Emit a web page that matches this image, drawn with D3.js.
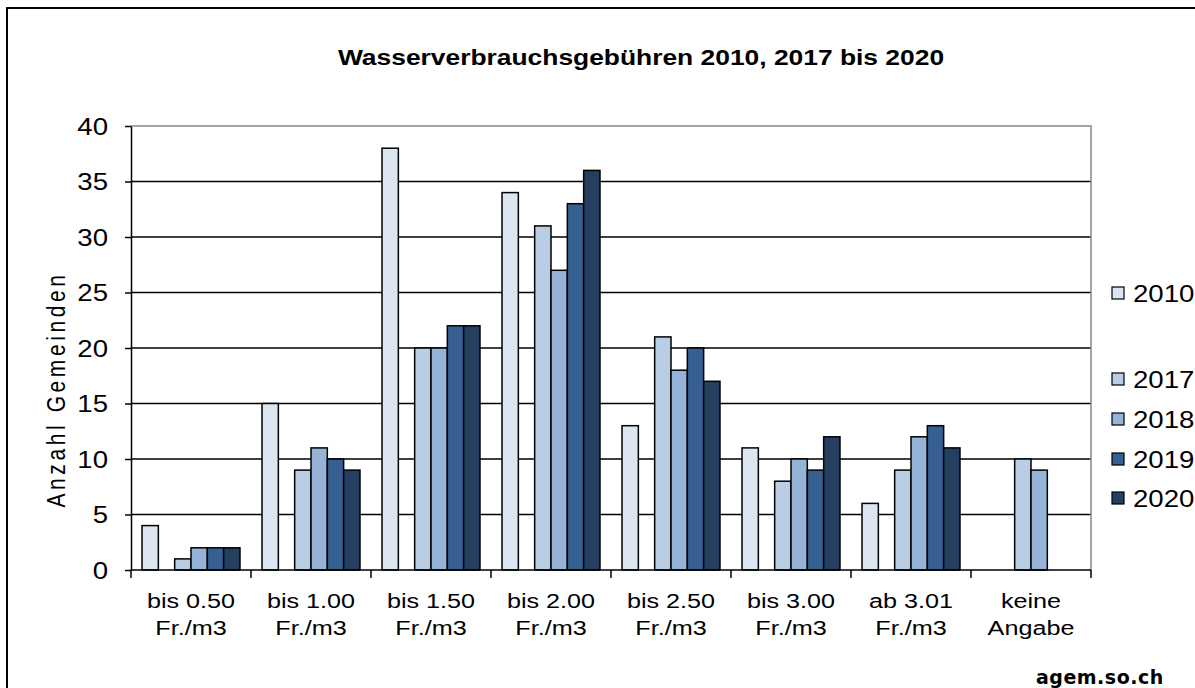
<!DOCTYPE html>
<html>
<head>
<meta charset="utf-8">
<script src="https://cdnjs.cloudflare.com/ajax/libs/d3/7.8.5/d3.min.js"></script>
<style>
  html, body { margin: 0; padding: 0; background: #fff; overflow: hidden; }
  svg { display: block; font-family: "Liberation Sans", Arial, sans-serif; }
</style>
</head>
<body>
<svg id="chart" width="1195" height="688"></svg>
<script>
// chart data
const categories = ["bis 0.50|Fr./m3", "bis 1.00|Fr./m3", "bis 1.50|Fr./m3", "bis 2.00|Fr./m3",
                    "bis 2.50|Fr./m3", "bis 3.00|Fr./m3", "ab 3.01|Fr./m3", "keine|Angabe"];
const seriesNames = ["2010", "", "2017", "2018", "2019", "2020"];
const values2010 = [4, 15, 38, 34, 13, 11, 6, null];
const values2017 = [1, 9, 20, 31, 21, 8, 9, 10];
const values2018 = [2, 11, 20, 27, 18, 10, 12, 9];
const values2019 = [2, 10, 22, 33, 20, 9, 13, null];
const values2020 = [2, 9, 22, 36, 17, 12, 11, null];
const yTicks = [0, 5, 10, 15, 20, 25, 30, 35, 40];

const seriesValues = { "2010": values2010, "": [], "2017": values2017,
                       "2018": values2018, "2019": values2019, "2020": values2020 };
const colors = { "2010": "#dce6f2", "2017": "#b9cde5", "2018": "#95b3d7",
                 "2019": "#376092", "2020": "#243f60" };

const sx = 1.2; // horizontal stretch of the original text
const svg = d3.select("#chart");

// outer frame
svg.append("rect").attr("x", 7).attr("y", 8).attr("width", 1220).attr("height", 700)
    .attr("fill", "none").attr("stroke", "#000").attr("stroke-width", 2);

const plot = { left: 131, right: 1091, top: 126, bottom: 570 };

const x = d3.scaleBand().domain(categories).range([plot.left, plot.right]).padding(0);
const xs = d3.scaleBand().domain(seriesNames).range([0, x.bandwidth()])
    .paddingInner(0).paddingOuter(0.675);
const y = d3.scaleLinear().domain([0, 40]).range([plot.bottom, plot.top]);

// grid lines
svg.append("g")
    .selectAll("line")
    .data(yTicks.filter(d => d > 0 && d < 40))
    .enter().append("line")
    .attr("x1", plot.left).attr("x2", plot.right)
    .attr("y1", d => y(d)).attr("y2", d => y(d))
    .attr("stroke", "#000").attr("stroke-width", 1.5);

// plot border (top + right, grey)
svg.append("path")
    .attr("d", `M${plot.left},${y(40)}H${plot.right}V${plot.bottom}`)
    .attr("fill", "none").attr("stroke", "#888").attr("stroke-width", 1.5);

// bars
const groups = svg.append("g")
    .selectAll("g")
    .data(seriesNames.filter(s => s !== ""))
    .enter().append("g")
    .attr("fill", s => colors[s]);

groups.selectAll("rect")
    .data(s => categories.map((c, i) => ({ s: s, c: c, v: seriesValues[s][i] })).filter(d => d.v != null))
    .enter().append("rect")
    .attr("x", d => x(d.c) + xs(d.s))
    .attr("y", d => y(d.v))
    .attr("width", xs.bandwidth())
    .attr("height", d => y(0) - y(d.v))
    .attr("stroke", "#000").attr("stroke-width", 1.5);

// y axis
const yAxis = svg.append("g")
    .attr("transform", `translate(${plot.left},0)`)
    .call(d3.axisLeft(y).tickValues(yTicks).tickSize(6).tickSizeOuter(0));
yAxis.select(".domain").attr("stroke", "#000").attr("stroke-width", 1.5);
yAxis.selectAll(".tick line").attr("stroke", "#000").attr("stroke-width", 1.5);
yAxis.selectAll(".tick text")
    .attr("x", 0).attr("dy", "0.35em")
    .attr("transform", `translate(-23,0) scale(${sx},1)`)
    .attr("font-size", 23).attr("fill", "#000")
    .attr("font-family", "Liberation Sans, Arial, sans-serif");

// x axis line and boundary ticks
const xAxis = svg.append("g");
xAxis.append("line")
    .attr("x1", plot.left).attr("x2", plot.right)
    .attr("y1", y(0)).attr("y2", y(0))
    .attr("stroke", "#000").attr("stroke-width", 1.5);
xAxis.selectAll(".bt")
    .data(categories.map(c => x(c)).concat([x(categories[categories.length - 1]) + x.bandwidth()]))
    .enter().append("line")
    .attr("x1", d => d).attr("x2", d => d)
    .attr("y1", y(0)).attr("y2", y(0) + 8)
    .attr("stroke", "#000").attr("stroke-width", 1.5);

// x labels
const xl = xAxis.selectAll(".xl")
    .data(categories)
    .enter().append("g")
    .attr("transform", c => `translate(${x(c) + x.bandwidth() / 2},0)`);
[0, 1].forEach(k => {
    xl.append("text")
        .attr("transform", `translate(0,${608 + k * 27}) scale(${sx},1)`)
        .attr("text-anchor", "middle")
        .attr("font-size", 21)
        .text(c => c.split("|")[k]);
});

// title
svg.append("text")
    .attr("transform", `translate(641,65) scale(${sx},1)`)
    .attr("text-anchor", "middle")
    .attr("font-size", 22).attr("font-weight", "bold")
    .text("Wasserverbrauchsgebühren 2010, 2017 bis 2020");

// y axis title
svg.append("text")
    .attr("transform", `translate(65,389.5) rotate(-90) scale(1,${sx})`)
    .attr("text-anchor", "middle")
    .attr("font-size", 21)
    .attr("letter-spacing", 3.6)
    .text("Anzahl Gemeinden");

// legend
const legendY = [293, 336, 379, 419, 459, 498];
const legend = svg.append("g")
    .selectAll("g")
    .data(seriesNames.map((s, i) => ({ s: s, yy: legendY[i] })).filter(d => d.s !== ""))
    .enter().append("g")
    .attr("transform", d => `translate(1112,${d.yy})`);
legend.append("rect")
    .attr("x", 0).attr("y", -6).attr("width", 12).attr("height", 12)
    .attr("fill", d => colors[d.s]).attr("stroke", "#000").attr("stroke-width", 1.2);
legend.append("text")
    .attr("transform", `translate(21,9) scale(${sx},1)`)
    .attr("font-size", 23)
    .text(d => d.s);

// source
svg.append("text")
    .attr("x", 1036).attr("y", 684)
    .attr("font-family", "DejaVu Sans, Verdana, sans-serif")
    .attr("font-weight", "bold").attr("font-size", 19)
    .attr("letter-spacing", 0.5)
    .text("agem.so.ch");
</script>
</body>
</html>
